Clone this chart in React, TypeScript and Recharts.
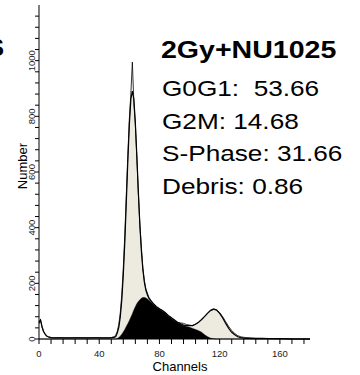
import React from 'react';
import { ComposedChart, Area, Line, XAxis, YAxis } from 'recharts';

// channel positions of the histogram (denser around the G0G1 peak)
const channels = [
  0, 1, 2, 3, 4, 5, 6, 8, 10, 14, 18, 22, 26, 30, 34, 38, 42, 46, 48,
  50, 51, 52, 53, 54, 55, 56, 57, 58, 59, 60, 61, 62, 63, 64, 65, 66, 67, 68, 69, 70, 71, 72, 73, 74, 75, 76,
  78, 80, 82, 84, 86, 88, 90, 92, 94, 96, 98, 100, 102, 104, 106, 108, 110, 112, 114, 116, 118, 120, 122, 124, 126, 128, 130, 132, 134, 136, 138, 140,
  144, 148, 152, 156, 160, 170, 180,
];

const zeros19 = [0, 0, 0, 0, 0, 0, 0, 0, 0, 0, 0, 0, 0, 0, 0, 0, 0, 0, 0];
const zeros7 = [0, 0, 0, 0, 0, 0, 0];

const g0g1 = [
  ...zeros19,
  3, 6, 16, 34, 66, 121, 204, 312, 444, 581, 700, 780, 798, 755, 657, 526, 390, 266, 167, 97, 51, 25, 11, 5, 2, 1, 0,
  0, 0, 0, 0, 0, 0, 0, 0, 0, 0, 0, 0, 0, 0, 0, 0, 0, 0, 0, 0, 0, 0, 0, 0, 0, 0, 0, 0, 0, 0, 0, 0,
  ...zeros7,
];

const sPhase = [
  ...zeros19,
  0, 0, 2, 5, 10, 17, 25, 34, 45, 55, 66, 78, 90, 104, 116, 127, 135, 141, 146, 149, 149, 147, 144, 139, 134, 129, 124,
  114, 107, 100, 92, 82, 74, 66, 58, 53, 48, 45, 42, 38, 34, 30, 24, 15, 8, 3, 1, 0, 0, 0, 0, 0, 0, 0, 0, 0, 0, 0, 0,
  ...zeros7,
];

const g2m = [
  ...zeros19,
  0, 0, 0, 0, 0, 0, 0, 0, 0, 0, 0, 0, 0, 0, 0, 0, 0, 0, 0, 0, 0, 0, 0, 0, 0, 0, 0,
  0, 0, 0, 0, 0, 0, 0, 0, 0, 0, 1, 4, 8, 17, 28, 44, 64, 83, 98, 105, 102, 90, 74, 54, 36, 22, 13, 6, 3, 1, 0, 0,
  ...zeros7,
];

const debris = [
  60, 68, 45, 28, 18, 11, 8, 5, 4, 4, 4, 4, 4, 4, 4, 4, 4, 4, 4,
  3, 3, 3, 3, 3, 3, 3, 3, 3, 3, 3, 3, 3, 3, 3, 3, 3, 3, 3, 3, 3, 3, 3, 3, 3, 3, 3,
  2, 2, 2, 2, 2, 2, 2, 2, 2, 2, 2, 2, 2, 2, 2, 2, 2, 2, 2, 2, 2, 2, 2, 2, 2, 2, 2, 2, 2, 2, 2, 2,
  1, 1, 1, 1, 1, 0, 0,
];

// raw histogram counts
const counts = [
  55, 70, 42, 26, 17, 12, 8, 5, 4, 5, 4, 4, 5, 4, 4, 5, 4, 4, 5,
  9, 14, 28, 52, 95, 160, 255, 375, 520, 660, 790, 880, 995, 850, 770, 650, 520, 410, 330, 255, 210, 180, 165, 150, 142, 133, 127,
  117, 108, 102, 93, 84, 76, 68, 60, 58, 56, 52, 50, 48, 54, 60, 70, 80, 92, 102, 106, 104, 95, 80, 62, 45, 30, 20, 12, 8, 6, 5, 4,
  3, 3, 2, 1, 1, 0, 0,
];

const xTicks = [0, 8, 16, 24, 32, 40, 48, 56, 64, 72, 80, 88, 96, 104, 112, 120, 128, 136, 144, 152, 160, 168, 176];
const yTicks = [
  0, 40, 80, 120, 160, 200, 240, 280, 320, 360, 400, 440, 480, 520, 560, 600, 640, 680, 720, 760,
  800, 840, 880, 920, 960, 1000, 1040, 1080, 1120, 1160,
];

const stats = ['G0G1:  53.66', 'G2M: 14.68', 'S-Phase: 31.66', 'Debris: 0.86'];

const rows = channels.map((ch, i) => ({
  ch,
  fill: g0g1[i] + sPhase[i] + g2m[i],
  sPhase: sPhase[i],
  fit: g0g1[i] + sPhase[i] + g2m[i] + debris[i],
  counts: counts[i],
}));

const font = '"Liberation Sans", Arial, sans-serif';

const XTick = (props: any) => {
  const { x, y, payload } = props;
  if (payload.value % 40 !== 0) return null;
  return (
    <text x={x} y={y + 11} textAnchor="middle" fontSize={9.5} fill="#222" fontFamily={font}>
      {payload.value}
    </text>
  );
};

const YTick = (props: any) => {
  const { x, y, payload } = props;
  if (payload.value % 200 !== 0) return null;
  return (
    <text x={x} y={y} transform={`rotate(-90, ${x}, ${y})`} textAnchor="middle" fontSize={9.5} fill="#222" fontFamily={font}>
      {payload.value}
    </text>
  );
};

export default function App() {
  return (
    <div style={{ position: 'absolute', left: 0, top: 0, width: 360, height: 375, background: '#fff' }}>
      <ComposedChart width={360} height={375} data={rows} margin={{ top: 5, right: 50, bottom: 0, left: 0 }}>
        <XAxis
          type="number"
          dataKey="ch"
          domain={[0, 180]}
          ticks={xTicks}
          interval={0}
          height={36}
          tickSize={5}
          tickMargin={2}
          axisLine={{ stroke: '#000' }}
          tickLine={{ stroke: '#000' }}
          tick={<XTick />}
        />
        <YAxis
          type="number"
          domain={[0, 1200]}
          ticks={yTicks}
          interval={0}
          width={39}
          tickSize={4}
          tickMargin={0}
          axisLine={{ stroke: '#000' }}
          tickLine={{ stroke: '#000' }}
          tick={<YTick />}
        />
        <Area type="linear" dataKey="fill" fill="#EDEADF" fillOpacity={1} stroke="none" isAnimationActive={false} />
        <Area type="linear" dataKey="sPhase" fill="#000" fillOpacity={1} stroke="#000" strokeWidth={0.5} isAnimationActive={false} />
        <Line type="linear" dataKey="fit" stroke="#000" strokeWidth={1.2} dot={false} isAnimationActive={false} />
        <Line type="linear" dataKey="counts" stroke="#000" strokeWidth={0.8} dot={false} isAnimationActive={false} />
      </ComposedChart>
      <svg width={360} height={375} style={{ position: 'absolute', left: 0, top: 0, pointerEvents: 'none' }}>
        <text x={-12} y={56} fontSize={24} fontWeight="bold" fontFamily={font}>S</text>
        <g transform="translate(161, 0) scale(1.19, 1)">
          <text x={0} y={58} fontSize={24} fontWeight="bold" fontFamily={font}>2Gy+NU1025</text>
        </g>
        <g transform="translate(162, 0) scale(1.19, 1)">
          {stats.map((s, i) => (
            <text key={s} x={0} y={96 + i * 32.7} fontSize={22} fontFamily={font} style={{ whiteSpace: 'pre' }}>
              {s}
            </text>
          ))}
        </g>
        <text x={27} y={166} transform="rotate(-90, 27, 166)" textAnchor="middle" fontSize={13} fontFamily={font}>
          Number
        </text>
        <text x={180} y={371} textAnchor="middle" fontSize={13} fontFamily={font}>
          Channels
        </text>
      </svg>
    </div>
  );
}
